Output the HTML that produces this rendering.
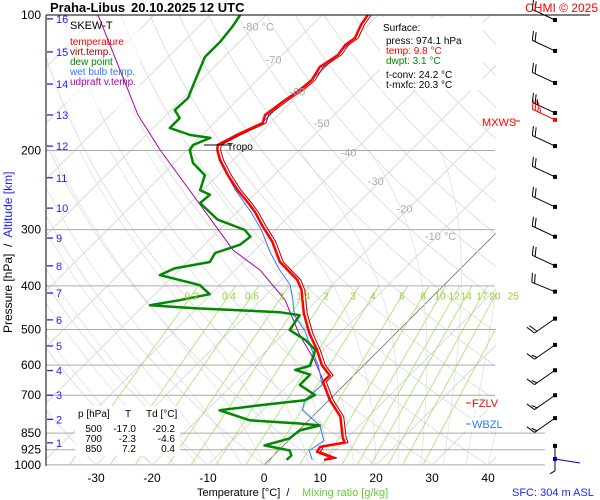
<!DOCTYPE html>
<html><head><meta charset="utf-8"><style>
html,body{margin:0;padding:0;background:#fff;overflow:hidden;width:600px;height:500px;}
svg{display:block;font-family:"Liberation Sans",sans-serif;}
</style></head><body>
<svg id="chart" width="600" height="500" viewBox="0 0 600 500">
<defs><clipPath id="clip"><rect x="46" y="15" width="450" height="450"/></clipPath></defs>
<rect width="600" height="500" fill="#fff"/>
<g id="bg" clip-path="url(#clip)"></g>
<g id="plines"></g>
<g id="boxes"></g>
<g id="series" clip-path="url(#clip)"></g>
<g id="ann"></g>
</svg>
<script>
const tempP=[100,105,112.5,116.6,122.7,130.5,139.5,146.8,154.5,166.8,173.8,184.8,194.5,199.5,210,227,245,261.7,274,293,319,354,388,408,460,510,555,600,632,654,718,781,868,892,912,935,965,974.1];
const tempT=[-61.8,-61.3,-60,-60.5,-60,-61.1,-60.2,-60.5,-61.4,-62.3,-61.3,-63.8,-65.4,-64.6,-62.3,-58.2,-53.8,-49.6,-46.8,-43.2,-38.4,-33.4,-27.1,-24.6,-20,-15.4,-11.1,-7.5,-4.3,-4.3,0.2,5,9.1,10.4,6.8,7.1,11.1,9.8];
const dewP=[100,106.3,114.8,124,143,152.9,162.7,169.5,178.3,184.8,187.6,194.5,199.5,213.3,227,245,251,261.7,285,300.5,311,324,338,354,365.7,378.5,398.5,417.3,430.4,441.5,448.4,457.6,464.7,501.6,527,555,602,615,630,664,699,718,737,756,796,809,817,838,873,905,929,953,974.1];
const dewT=[-84.6,-83.9,-83.4,-83.4,-80.5,-79.1,-79.3,-77,-77,-72.1,-68,-69.8,-69.5,-66.6,-62.3,-60.5,-57.9,-58.2,-52.1,-45.4,-43.2,-43.6,-46.6,-45.9,-51.1,-52.5,-43.6,-40.2,-44.5,-48.9,-40.4,-24.5,-20.4,-19.5,-15,-11.4,-9.5,-11.4,-7.9,-7.9,-3.4,-4.3,-11.4,-17.7,-10.5,-1.1,2.9,0.2,-0.2,-3.4,2,3.2,3.1];
const wbP=[100,112.5,122.7,139.5,154.5,173.8,194.5,210,245,274,300,336,369,398,430,465,502,555,602,664,718,756,817,884,929,974.1];
const wbT=[-61.9,-60.1,-60.1,-60.3,-61.5,-61.4,-65.5,-62.5,-54.2,-47.5,-42.5,-37,-32,-27.5,-24.3,-21.3,-16.8,-12,-8,-3.9,-4.3,-2.9,2.9,6.4,5.5,7.7];
const parcelP=[100,166.8,199.5,264,333,369,430,515,586,664];
const parcelT=[-110,-85,-74.8,-57.9,-43.9,-35.5,-25.7,-16.8,-9.6,-3.4];
const mixRatios=[0.2,0.4,0.6,1,1.4,2,3,4,6,8,10,12,14,17,20,25];
const pressureTicks=[100,200,300,400,500,600,700,850,925,1000];
const tempTicks=[-30,-20,-10,0,10,20,30,40];
const isoLabels=[-80,-70,-60,-50,-40,-30,-20,-10];
const isoLabelP=[106,125.5,148,174,202,234,269,310];
const altKm=[16,15,14,13,12,11,10,9,8,7,6,5,4,3,2,1];
const altP=[102,120.8,142.4,166.8,195.6,230,268.7,313.2,361,415,476,544,617,700,792,893];
const windP=[102.6,120.2,141.6,165.1,171,195.6,229,267,311,361,412,473,541,616,700,787,907];
const windDir=[295,295,295,295,295,295,295,295,295,295,292,235,235,235,235,235,180];
const windSpd=[20,20,20,25,35,20,20,20,20,20,20,20,15,15,15,15,5];

const NS='http://www.w3.org/2000/svg';
const Y=p=>15+195.4*Math.log(p/100);
const X=(t,p)=>264+5.6*t+(465-Y(p));
function el(tag,attrs,parent,txt){const e=document.createElementNS(NS,tag);for(const k in attrs)e.setAttribute(k,attrs[k]);if(txt!==undefined)e.textContent=txt;parent.appendChild(e);return e;}
const bg=document.getElementById('bg'),pl=document.getElementById('plines'),bx=document.getElementById('boxes'),se=document.getElementById('series'),an=document.getElementById('ann');

for(let t=-150;t<=50;t+=10){
  const l=el('line',{x1:X(t,1000),y1:465,x2:X(t,1000)+450,y2:15,stroke:t===0?'#777':'#ccc','stroke-width':t===0?0.9:0.7},bg);
  
  
}
for(let th=-40;th<=220;th+=10){
  let d='';
  for(let p=1000;p>=100;p-=10){const t=(th+273.15)*Math.pow(p/1000,0.286)-273.15;d+=(d?'L':'M')+X(t,p).toFixed(1)+','+Y(p).toFixed(1);}
  const a=el('path',{d:d,fill:'none',stroke:'#d4d4d4','stroke-width':0.7},bg);
  
  
}
function es(t){return 6.112*Math.exp(17.67*t/(t+243.5));}
for(let tw=-20;tw<=40;tw+=4){
  let t=tw,d='';
  for(let p=1000;p>=200;p-=5){
    d+=(d?'L':'M')+X(t,p).toFixed(1)+','+Y(p).toFixed(1);
    const T=t+273.15,rs=0.622*es(t)/(p-es(t));
    const dTdp=(287*T+2.5e6*rs)/(p*(1004+2.5e6*2.5e6*rs*0.622/(287*T*T)));
    t-=dTdp*5;
  }
  const m=el('path',{d:d,fill:'none',stroke:'#ddd','stroke-width':0.7},bg);
  
  
}
function tdFromW(w,p){const e=w*p/(622+w);const g=Math.log(e/6.112);return 243.5*g/(17.67-g);}
mixRatios.forEach(w=>{
  const m=el('line',{x1:X(tdFromW(w,1000),1000),y1:Y(1000),x2:X(tdFromW(w,400),400),y2:Y(400),stroke:'#9ee66a','stroke-width':0.8},bg);
  
  
  const lt=el('text',{x:X(tdFromW(w,420),420),y:Y(420)+4,'font-size':10,fill:'#9acd32','text-anchor':'middle'},an,String(w));
  
  
});
pressureTicks.forEach(p=>{
  const y=Y(p);
  if(p>100){const g=el('line',{x1:46,y1:y,x2:p>=850?545:495,y2:y,stroke:'#aaa','stroke-width':1},pl);
    
    }
  const t=el('text',{x:41,y:y+4,'font-size':12,'text-anchor':'end',fill:'#000'},an,String(p));
  
  
});
el('line',{x1:46,y1:15,x2:590,y2:15,stroke:'#000','stroke-width':1},an);
el('line',{x1:46,y1:15,x2:46,y2:466,stroke:'#000','stroke-width':1},an);
tempTicks.forEach(t=>{
  const tx=el('text',{x:X(t,1000),y:482,'font-size':12,'text-anchor':'middle',fill:'#000'},an,String(t));
  
  
});
isoLabels.forEach((t,i)=>{
  const p=isoLabelP[i];
  const s=(t===-80||t===-10)?t+' °C':String(t);
  const tx=el('text',{x:X(t,p)-12,y:Y(p)+4,'font-size':11,fill:'#aaa'},an,s);
  
  
});
altKm.forEach((k,i)=>{
  const y=Y(altP[i]);
  el('line',{x1:47,y1:y,x2:53,y2:y,stroke:'#22f','stroke-width':1.3},an);
  const tx=el('text',{x:56,y:y+4,'font-size':11,fill:'#22f'},an,String(k));
  
  
});
el('rect',{x:67,y:17,width:73,height:93,fill:'#fff','fill-opacity':0.6},bx);
el('rect',{x:380,y:18,width:103,height:72,fill:'#fff'},bx);
el('rect',{x:75,y:406,width:105,height:50,fill:'#fff'},bx);
el('rect',{x:470,y:397,width:38,height:13,fill:'#fff'},bx);
el('rect',{x:464,y:418,width:40,height:13,fill:'#fff'},bx);

function path(P,T,color,w,name){
  let d='';P.forEach((p,i)=>{d+=(i?'L':'M')+X(T[i],p).toFixed(1)+','+Y(p).toFixed(1);});
  const e=el('path',{d:d,fill:'none',stroke:color,'stroke-width':w,'stroke-linejoin':'round'},se);
  
  
}
path(parcelP,parcelT,'#a0a','1','updraft-virtual-temp-line');
path(wbP,wbT,'#3377ff','1','wet-bulb-line');
path(tempP,tempT.map(t=>t+0.6),'#a00','1','virtual-temp-line');
path(dewP,dewT,'#080','2.5','dew-point-line');
path(tempP,tempT,'#f00','2.5','temperature-line');
el('line',{x1:204,y1:145,x2:232,y2:145,stroke:'#000','stroke-width':1},an);
el('text',{x:227,y:150,'font-size':10,fill:'#000'},an,'Tropo');
windP.forEach((p,i)=>{
  const y=Y(p),x=555,L=25,d=windDir[i]*Math.PI/180;
  const ux=Math.sin(d),uy=-Math.cos(d);
  const col=windSpd[i]>30?'#f00':'#000';
  const g=el('g',{},an);
  
  
  el('line',{x1:x,y1:y,x2:x+ux*L,y2:y+uy*L,stroke:col,'stroke-width':1},g);
  el('rect',{x:x-2,y:y-2,width:4,height:4,fill:col},g);
  let s=windSpd[i],pos=0;
  const px=-uy,py=ux;
  while(s>=5){
    const len=s>=10?9:5;
    const bx2=x+ux*(L-pos),by=y+uy*(L-pos);
    el('line',{x1:bx2,y1:by,x2:bx2+px*len+ux*3,y2:by+py*len+uy*3,stroke:col,'stroke-width':1},g);
    s-=s>=10?10:5;pos+=3;
  }
});
el('rect',{x:553,y:457,width:4,height:4,fill:'#00c'},an);
el('line',{x1:555,y1:459,x2:580,y2:463,stroke:'#00c','stroke-width':1},an);
function txt(x,y,s,fs,col,name,extra){const t=el('text',Object.assign({x:x,y:y,'font-size':fs,fill:col},extra||{}),an,s);return t;}
txt(70,29,'SKEW-T',11,'#000','legend-title');
txt(70,45,'temperature',10,'#f00','legend-temperature');
txt(70,55,'virt.temp.',10,'#a00','legend-virt-temp');
txt(70,65,'dew point',10,'#080','legend-dew-point');
txt(70,75,'wet bulb temp.',10,'#3377ff','legend-wet-bulb');
txt(70,85,'udpraft v.temp.',10,'#a0a','legend-updraft');
txt(383,31,'Surface:',10,'#000','surface-title');
txt(386,44,'press: 974.1 hPa',10,'#000','surface-press');
txt(386,54,'temp: 9.8 °C',10,'#f00','surface-temp');
txt(386,64,'dwpt: 3.1 °C',10,'#080','surface-dwpt');
txt(386,78,'t-conv: 24.2 °C',10,'#000','surface-tconv');
txt(386,88,'t-mxfc: 20.3 °C',10,'#000','surface-tmxfc');
txt(78,417,'p [hPa]',10,'#000','table-header-p');
txt(125,417,'T',10,'#000','table-header-t');
txt(146,417,'Td [°C]',10,'#000','table-header-td');
[['500','-17.0','-20.2'],['700','-2.3','-4.6'],['850','7.2','0.4']].forEach((r,i)=>{
  const y=432+i*10;
  txt(102,y,r[0],10,'#000','table-p',{'text-anchor':'end'});
  txt(136,y,r[1],10,'#000','table-t',{'text-anchor':'end'});
  txt(175,y,r[2],10,'#000','table-td',{'text-anchor':'end'});
});
el('line',{x1:466,y1:403,x2:471,y2:403,stroke:'#f00'},an);
txt(472,407,'FZLV',11,'#f00','fzlv-label');
el('line',{x1:466,y1:424,x2:471,y2:424,stroke:'#3377ff'},an);
txt(472,428,'WBZL',11,'#3377ff','wbzl-label');
txt(482,126,'MXWS',11,'#f00','mxws-label');
el('line',{x1:514,y1:121,x2:520,y2:121,stroke:'#f00'},an);
txt(50,12,'Praha-Libus',13,'#000','chart-title-station',{'font-weight':'bold'});
txt(131,12,'20.10.2025 12 UTC',13,'#000','chart-title-date',{'font-weight':'bold'});
txt(598,12,'CHMI © 2025',12,'#f00','copyright',{'text-anchor':'end'});
txt(197,496,'Temperature [°C]  /',11,'#000','x-axis-title',{style:'white-space:pre'});
txt(302,496,'Mixing ratio [g/kg]',11,'#6c3','x-axis-title-mixing');
txt(512,496,'SFC: 304 m ASL',11,'#22f','sfc-label');
const yt=el('text',{x:0,y:0,'font-size':12,fill:'#000',transform:'translate(12,333) rotate(-90)',style:'white-space:pre'},an);


yt.innerHTML='Pressure [hPa]  /  <tspan fill="#22f">Altitude [km]</tspan>';
</script>
</body></html>
